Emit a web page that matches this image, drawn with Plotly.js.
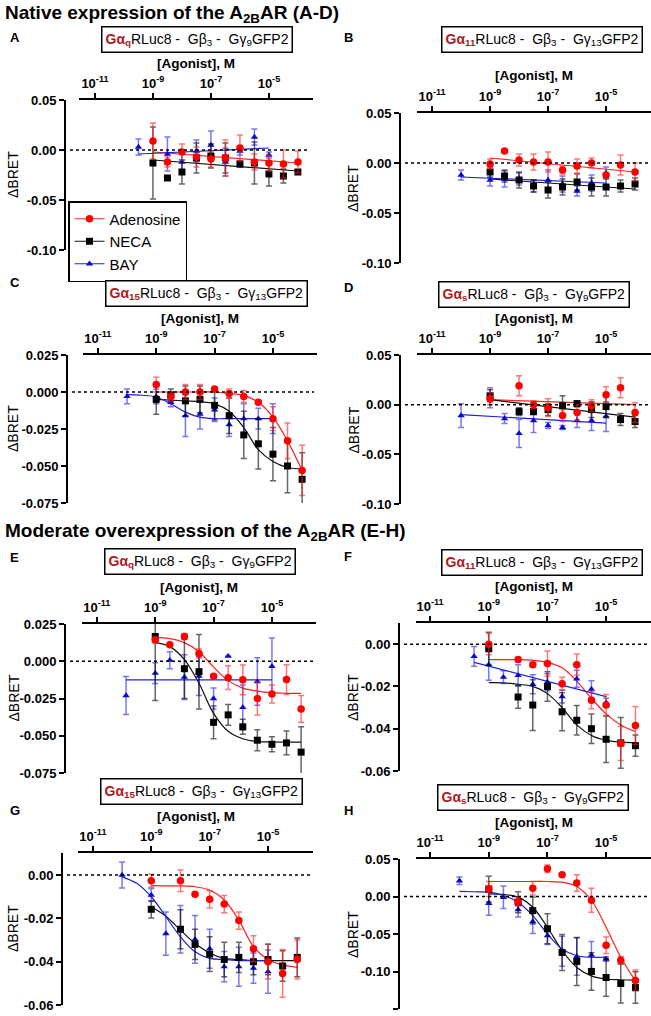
<!DOCTYPE html>
<html>
<head>
<meta charset="utf-8">
<script src="https://cdn.plot.ly/plotly-3.0.1.min.js"></script>
<style>body{margin:0;background:#fff}</style>
</head>
<body>
<div id="fig" style="width:651px;height:1016px"></div>
<script>
'use strict';

const n = null;

// agonist concentrations (M), half-log steps
const dose = [1e-10, 3.16e-10, 1e-9, 3.16e-9, 1e-8, 3.16e-8, 1e-7, 3.16e-7, 1e-6, 3.16e-6, 1e-5, 3.16e-5, 1e-4];

const xTickVals = [1e-11, 1e-9, 1e-7, 1e-5];
const xTickText = ['10<sup>-11</sup>', '10<sup>-9</sup>', '10<sup>-7</sup>', '10<sup>-5</sup>'];

const yTicks1 = [-0.10, -0.05, 0, 0.05];
const yText1 = ['-0.10', '-0.05', '0.00', '0.05'];
const yTicks2 = [-0.075, -0.05, -0.025, 0, 0.025];
const yText2 = ['-0.075', '-0.050', '-0.025', '0.000', '0.025'];
const yTicks3 = [-0.06, -0.04, -0.02, 0];
const yText3 = ['-0.06', '-0.04', '-0.02', '0.00'];
const yTicks4 = [-0.15, -0.10, -0.05, 0, 0.05];
const yText4 = ['-0.15', '-0.10', '-0.05', '0.00', '0.05'];

const letters = ['A', 'B', 'C', 'D', 'E', 'F', 'G', 'H'];
const alphaSub = ['q', '11', '15', 's', 'q', '11', '15', 's'];
const gammaSub = ['9', '13', '13', '9', '9', '13', '13', '9'];
const agonists = ['Adenosine', 'NECA', 'BAY'];

// A
const aAdo     = [n, n, 0.009, -0.012, -0.002, -0.007, -0.009, -0.008, 0.002, -0.012, -0.013, -0.014, -0.012];
const aAdoSd   = [n, n, 0.018, 0.005, 0.008, 0.010, 0.008, 0.018, 0.013, 0.008, 0.008, 0.014, 0.011];
const aNeca    = [n, n, -0.013, -0.028, -0.022, -0.008, -0.006, -0.008, -0.014, -0.013, -0.024, -0.026, -0.022];
const aNecaSd  = [n, n, 0.036, n, 0.012, 0.015, 0.012, 0.015, 0.003, 0.021, 0.012, 0.007, 0.002];
const aBay     = [n, 0.003, n, -0.004, -0.012, -0.001, 0.005, -0.012, -0.001, 0.013, -0.005, n, n];
const aBaySd   = [n, 0.008, n, 0.017, 0.010, 0.011, 0.014, 0.014, 0.004, 0.008, 0.003, n, n];
const aAdoFit  = [n, n, -0.002, n, n, n, n, n, n, n, n, n, -0.013];
const aNecaFit = [n, n, -0.010, n, n, n, n, n, n, n, n, n, -0.021];
const aBayFit  = [n, -0.004, n, n, n, n, n, n, n, n, 0.002, n, n];

// B
const bAdo     = [n, n, -0.001, 0.012, 0.003, 0.001, 0.001, -0.007, -0.003, 0.000, -0.012, -0.002, -0.009];
const bAdoSd   = [n, n, 0.005, n, 0.006, 0.008, 0.010, 0.004, 0.007, 0.005, 0.002, 0.010, 0.009];
const bNeca    = [n, n, -0.009, -0.013, -0.017, -0.023, -0.027, -0.024, -0.019, -0.024, -0.024, -0.023, -0.021];
const bNecaSd  = [n, n, 0.005, 0.006, 0.008, 0.006, 0.008, 0.008, 0.008, 0.009, 0.009, 0.006, 0.006];
const bBay     = [-0.012, n, -0.017, -0.016, -0.016, -0.023, -0.017, -0.021, -0.028, -0.020, -0.010, n, n];
const bBaySd   = [0.005, n, 0.006, 0.008, 0.006, 0.006, 0.010, 0.008, 0.005, 0.008, 0.006, n, n];
const bAdoFit  = [n, n, 0.005, n, n, n, n, n, n, n, n, n, -0.009];
const bNecaFit = [n, n, -0.016, n, n, n, n, n, n, n, n, n, -0.026];
const bBayFit  = [-0.014, n, n, n, n, n, n, n, n, n, -0.020, n, n];

// C
const cAdo     = [n, n, 0.005, -0.003, 0.000, 0.000, 0.002, -0.001, -0.003, -0.007, -0.018, -0.033, -0.053];
const cAdoSd   = [n, n, 0.005, 0.003, 0.005, 0.005, 0.001, 0.003, 0.004, 0.001, 0.008, 0.012, 0.017];
const cNeca    = [n, n, -0.005, -0.002, -0.006, -0.005, -0.009, -0.016, -0.029, -0.035, -0.042, -0.050, -0.059];
const cNecaSd  = [n, n, 0.010, 0.004, 0.010, 0.009, 0.010, 0.012, 0.016, 0.017, 0.018, 0.018, 0.018];
const cBay     = [-0.003, n, -0.003, -0.007, -0.016, -0.015, -0.012, -0.022, -0.018, -0.018, -0.018, n, n];
const cBaySd   = [0.005, n, 0.005, 0.003, 0.014, 0.010, 0.008, 0.008, 0.010, 0.007, 0.010, n, n];
const cAdoFit  = [n, n, 0.000, 0.000, 0.000, 0.000, 0.000, -0.001, -0.0023, -0.007, -0.017, -0.033, -0.053];
const cNecaFit = [n, n, -0.005, -0.0055, -0.006, -0.0065, -0.008, -0.013, -0.024, -0.039, -0.047, -0.051, -0.052];
const cBayFit  = [-0.0018, -0.0022, -0.0034, -0.008, -0.0136, -0.017, -0.018, -0.018, -0.018, -0.018, -0.018, n, n];

// D
const dAdo     = [n, n, 0.006, n, 0.019, 0.000, -0.003, -0.011, -0.008, -0.001, 0.010, 0.017, -0.008];
const dAdoSd   = [n, n, 0.006, n, 0.010, 0.004, 0.009, 0.006, 0.008, 0.006, 0.008, 0.010, 0.010];
const dNeca    = [n, n, 0.009, n, -0.007, -0.007, -0.005, -0.001, 0.001, -0.005, -0.002, -0.015, -0.017];
const dNecaSd  = [n, n, 0.006, n, 0.004, 0.003, 0.006, 0.010, 0.003, 0.008, 0.010, 0.006, 0.006];
const dBay     = [-0.011, n, 0.007, -0.014, -0.029, -0.016, -0.021, -0.023, -0.016, -0.016, -0.012, n, n];
const dBaySd   = [0.012, n, 0.010, 0.005, 0.014, 0.012, 0.003, 0.002, 0.007, 0.010, 0.015, n, n];
const dAdoFit  = [n, n, 0.005, n, n, n, n, n, n, n, n, n, 0.000];
const dNecaFit = [n, n, 0.005, n, n, n, n, n, n, n, n, n, -0.0125];
const dBayFit  = [-0.010, n, n, n, n, n, n, n, n, n, -0.0186, n, n];

// E
const eAdo     = [n, n, 0.0143, 0.011, 0.0166, 0.0052, -0.010, -0.011, -0.0125, -0.025, -0.022, -0.0123, -0.032];
const eAdoSd   = [n, n, 0.002, 0.001, 0.002, 0.003, 0.001, 0.008, 0.010, 0.011, 0.006, 0.010, 0.009];
const eNeca    = [n, n, 0.0166, n, -0.005, -0.007, -0.041, -0.036, -0.044, -0.053, -0.0557, -0.0548, -0.061];
const eNecaSd  = [n, n, 0.043, n, 0.020, 0.025, 0.011, 0.007, 0.005, 0.007, 0.005, 0.008, 0.017];
const eBay     = [-0.023, n, -0.008, 0.0007, -0.0107, -0.010, -0.025, 0.0034, -0.031, -0.0136, -0.0034, n, n];
const eBaySd   = [0.0127, n, 0.007, 0.0057, 0.015, 0.013, 0.007, n, 0.015, 0.016, 0.019, n, n];
const eAdoFit  = [n, n, 0.016, 0.0152, 0.0125, 0.0064, -0.0039, -0.013, -0.018, -0.020, -0.0211, -0.0215, -0.0216];
const eNecaFit = [n, n, 0.0125, 0.0098, 0.0011, -0.0148, -0.035, -0.047, -0.052, -0.0539, -0.0542, -0.0543, -0.0543];
const eBayFit  = [-0.0125, n, n, n, n, n, n, n, n, n, -0.0125, n, n];

// F
const fAdo     = [n, n, 0.000, n, -0.0073, -0.0097, -0.0092, -0.0187, -0.0097, -0.0265, -0.0288, -0.047, -0.0385];
const fAdoSd   = [n, n, 0.005, n, 0.001, 0.001, 0.006, 0.003, 0.005, 0.004, 0.005, 0.008, 0.009];
const fNeca    = [n, n, -0.0022, n, -0.025, -0.0288, -0.020, -0.032, -0.036, -0.040, -0.045, -0.0467, -0.048];
const fNecaSd  = [n, n, 0.0078, n, 0.0053, 0.012, 0.007, 0.009, 0.007, 0.007, 0.011, 0.012, 0.005];
const fBay     = [n, -0.0058, -0.0097, -0.0156, -0.0148, -0.019, -0.018, -0.0248, -0.0164, -0.0213, -0.0276, n, n];
const fBaySd   = [n, 0.0047, 0.0074, 0.003, 0.005, 0.0045, 0.004, 0.003, 0.004, 0.004, 0.002, n, n];
const fAdoFit  = [n, n, -0.0073, -0.0073, -0.0073, -0.0076, -0.0086, -0.0112, -0.0175, -0.0257, -0.033, -0.0382, -0.0413];
const fNecaFit = [n, n, -0.0182, -0.0183, -0.019, -0.020, -0.0234, -0.030, -0.0382, -0.0432, -0.0455, -0.0463, -0.0466];
const fBayFit  = [n, -0.0086, n, n, n, n, n, n, n, n, -0.0248, n, n];

// G
const gAdo     = [n, n, -0.0026, n, -0.0026, -0.0088, -0.0112, -0.0134, -0.021, -0.034, -0.040, -0.0454, -0.039];
const gAdoSd   = [n, n, 0.003, n, 0.005, 0.001, 0.004, 0.004, 0.004, 0.006, 0.008, 0.011, 0.009];
const gNeca    = [n, n, -0.0158, n, -0.025, -0.032, -0.0365, -0.039, -0.038, -0.040, -0.039, -0.042, -0.038];
const gNecaSd  = [n, n, 0.004, n, 0.009, 0.007, 0.008, 0.008, 0.007, 0.006, 0.007, 0.007, 0.009];
const gBay     = [0.000, n, -0.0092, -0.027, -0.025, -0.0297, -0.034, -0.0423, -0.0423, -0.043, -0.0446, n, n];
const gBaySd   = [0.006, n, 0.003, 0.010, 0.011, 0.011, 0.009, 0.007, 0.009, 0.007, 0.010, n, n];
const gAdoFit  = [n, n, -0.0049, -0.005, -0.005, -0.0054, -0.0069, -0.0115, -0.0208, -0.033, -0.039, -0.0415, -0.0426];
const gNecaFit = [n, n, -0.0146, -0.019, -0.0254, -0.0315, -0.036, -0.0385, -0.039, -0.0395, -0.0395, -0.0395, -0.0395];
const gBayFit  = [-0.0008, -0.0038, -0.010, -0.0192, -0.0285, -0.0354, -0.0385, -0.039, -0.0395, -0.0395, -0.0395, n, n];

// H
const hAdo     = [n, n, 0.010, n, -0.007, 0.011, 0.037, 0.029, 0.018, -0.005, -0.065, -0.085, -0.112];
const hAdoSd   = [n, n, 0.010, n, 0.006, 0.009, 0.005, n, 0.011, 0.016, 0.011, 0.005, 0.014];
const hNeca    = [n, n, 0.010, n, -0.0076, -0.0188, -0.043, -0.0746, -0.0866, -0.100, -0.108, -0.116, -0.1214];
const hNecaSd  = [n, n, 0.017, n, 0.014, 0.018, 0.020, 0.024, 0.032, 0.025, 0.025, 0.026, 0.021];
const hBay     = [0.021, n, -0.009, -0.001, -0.0174, -0.0335, -0.052, -0.073, -0.080, -0.078, -0.0835, n, n];
const hBaySd   = [0.005, n, 0.016, 0.015, 0.010, 0.016, 0.012, 0.020, 0.025, 0.018, 0.003, n, n];
const hAdoFit  = [n, n, 0.020, 0.020, 0.020, 0.020, 0.020, 0.019, 0.0134, -0.005, -0.041, -0.081, -0.1125];
const hNecaFit = [n, n, 0.0036, 0.0027, -0.0009, -0.0143, -0.041, -0.072, -0.0946, -0.1058, -0.110, -0.111, -0.1116];
const hBayFit  = [0.0067, 0.0063, 0.0058, 0.0013, -0.0076, -0.0254, -0.050, -0.070, -0.079, -0.081, -0.081, n, n];

const W = 651, H = 1016;
const FONT = 'Liberation Sans, Arial, sans-serif';

// g: [y-axis x, top, bottom, x-axis start, x-axis end] in px
const panels = [
    {g: [65, 100, 250, 79, 313], xr: [-11.55, -3.48], yr: [-0.10, 0.05], yt: yTicks1, ytx: yText1, box: [197, 39.5], lab: [8, 37],
     s: [[aAdo, aAdoSd, aAdoFit], [aNeca, aNecaSd, aNecaFit], [aBay, aBaySd, aBayFit]]},
    {g: [400, 113, 263, 417, 651], xr: [-11.52, -3.45], yr: [-0.10, 0.05], yt: yTicks1, ytx: yText1, box: [542, 39], lab: [342, 37],
     s: [[bAdo, bAdoSd, bAdoFit], [bNeca, bNecaSd, bNecaFit], [bBay, bBaySd, bBayFit]]},
    {g: [67, 355, 503, 83, 317], xr: [-11.51, -3.49], yr: [-0.075, 0.025], yt: yTicks2, ytx: yText2, box: [206, 293.5], lab: [8, 283],
     s: [[cAdo, cAdoSd, cAdoFit], [cNeca, cNecaSd, cNecaFit], [cBay, cBaySd, cBayFit]]},
    {g: [400, 355, 504, 417, 651], xr: [-11.52, -3.45], yr: [-0.10, 0.05], yt: yTicks1, ytx: yText1, box: [534, 295], lab: [342, 288],
     s: [[dAdo, dAdoSd, dAdoFit], [dNeca, dNecaSd, dNecaFit], [dBay, dBaySd, dBayFit]]},
    {g: [65, 624, 773, 82, 316], xr: [-11.51, -3.49], yr: [-0.075, 0.025], yt: yTicks2, ytx: yText2, box: [200, 561.5], lab: [8, 557],
     s: [[eAdo, eAdoSd, eAdoFit], [eNeca, eNecaSd, eNecaFit], [eBay, eBaySd, eBayFit]]},
    {g: [399, 623, 771, 416, 651], xr: [-11.48, -3.47], yr: [-0.06, 0.01], yt: yTicks3, ytx: yText3, box: [541.5, 562], lab: [342, 556],
     s: [[fAdo, fAdoSd, fAdoFit], [fNeca, fNecaSd, fNecaFit], [fBay, fBaySd, fBayFit]]},
    {g: [62, 853, 1005, 78, 313], xr: [-11.51, -3.46], yr: [-0.06, 0.0102], yt: yTicks3, ytx: yText3, box: [201.5, 791.5], lab: [8, 810],
     s: [[gAdo, gAdoSd, gAdoFit], [gNeca, gNecaSd, gNecaFit], [gBay, gBaySd, gBayFit]]},
    {g: [399, 859, 1009, 416, 651], xr: [-11.48, -3.47], yr: [-0.15, 0.05], yt: yTicks4, ytx: yText4, box: [532.5, 797.5], lab: [342, 810],
     s: [[hAdo, hAdoSd, hAdoFit], [hNeca, hNecaSd, hNecaFit], [hBay, hBaySd, hBayFit]]},
];

const looks = [
    {color: '#ff0000', err: 'rgba(255,30,30,0.6)', fit: '#ff2020', symbol: 'circle', size: 7.5},
    {color: '#000000', err: 'rgba(0,0,0,0.6)', fit: '#111111', symbol: 'square', size: 7},
    {color: '#0a0ad2', err: 'rgba(30,30,235,0.6)', fit: '#2020d8', symbol: 'triangle-up', size: 6.5},
];

const bold = t => '<b>' + t + '</b>';

const traces = [];
const annotations = [];
const shapes = [];
const layout = {
    width: W, height: H,
    margin: {l: 0, r: 0, t: 0, b: 0},
    paper_bgcolor: '#fff', plot_bgcolor: 'rgba(0,0,0,0)',
    font: {family: FONT, color: '#000'},
    showlegend: true,
    legend: {
        x: 68 / W, y: 1 - 201 / H, xanchor: 'left', yanchor: 'top',
        bgcolor: '#fff', bordercolor: '#000', borderwidth: 1.5,
        font: {family: FONT, size: 15, color: '#000'},
        tracegroupgap: 0, itemwidth: 30
    },
    annotations: annotations,
    shapes: shapes
};

const px = v => v / W;
const py = v => 1 - v / H;

function titleText(i) {
    return '<span style="color:#b0181d"><b>G\u03b1<sub>' + alphaSub[i] + '</sub></b></span>RLuc8 -\u00a0 G\u03b2<sub>3</sub> -\u00a0 G\u03b3<sub>' + gammaSub[i] + '</sub>GFP2';
}

panels.forEach((p, i) => {
    const k = i === 0 ? '' : String(i + 1);
    const [yx, top, bot, x0, x1] = p.g;

    layout['xaxis' + k] = {
        type: 'log', domain: [px(x0), px(x1)], range: p.xr, side: 'top', anchor: 'y' + k,
        showline: true, linecolor: '#000', linewidth: 2,
        ticks: 'outside', ticklen: 5, tickwidth: 2, tickcolor: '#000',
        tickmode: 'array', tickvals: xTickVals, ticktext: xTickText.map(bold),
        tickfont: {family: FONT, size: 13, color: '#000'},
        showgrid: false, zeroline: false
    };
    layout['yaxis' + k] = {
        domain: [py(bot), py(top)], range: p.yr, anchor: 'free', position: px(yx),
        showline: true, linecolor: '#000', linewidth: 2,
        ticks: 'outside', ticklen: 5, tickwidth: 2, tickcolor: '#000',
        tickmode: 'array', tickvals: p.yt, ticktext: p.ytx.map(bold),
        tickfont: {family: FONT, size: 13, color: '#000'},
        showgrid: false, zeroline: false
    };

    // dotted zero line
    shapes.push({
        type: 'line', xref: 'paper', yref: 'y' + k,
        x0: px(yx + 5), x1: px(x1 - 3), y0: 0, y1: 0,
        line: {color: '#000', width: 1.5, dash: 'dot'}
    });

    // fitted curves
    p.s.forEach((ser, j) => {
        traces.push({
            x: dose, y: ser[2], xaxis: 'x' + k, yaxis: 'y' + k,
            type: 'scatter', mode: 'lines', connectgaps: true,
            line: {color: looks[j].fit, width: 1.2, shape: 'spline'},
            showlegend: false, hoverinfo: 'skip'
        });
    });
    // means with SD bars, BAY underneath
    [2, 1, 0].forEach(j => {
        const ser = p.s[j];
        traces.push({
            x: dose, y: ser[0], xaxis: 'x' + k, yaxis: 'y' + k,
            type: 'scatter', mode: 'markers', name: agonists[j],
            marker: {color: looks[j].color, symbol: looks[j].symbol, size: looks[j].size},
            error_y: {type: 'data', array: ser[1], visible: true, color: looks[j].err, thickness: 1.5, width: 3},
            showlegend: false
        });
    });

    annotations.push(
        {xref: 'paper', yref: 'paper', x: px(p.lab[0]), y: py(p.lab[1]), xanchor: 'left', yanchor: 'middle',
         text: bold(letters[i]), showarrow: false, font: {family: FONT, size: 13}},
        {xref: 'paper', yref: 'paper', x: px(p.box[0]), y: py(p.box[1]), xanchor: 'center', yanchor: 'middle',
         text: titleText(i), showarrow: false, font: {family: FONT, size: 14},
         bordercolor: '#000', borderwidth: 1.5, borderpad: 3, bgcolor: '#fff'},
        {xref: 'paper', yref: 'paper', x: px((x0 + x1) / 2), y: py(top - 37), xanchor: 'center', yanchor: 'middle',
         text: bold('[Agonist], M'), showarrow: false, font: {family: FONT, size: 13.5}},
        {xref: 'paper', yref: 'paper', x: px(yx < 200 ? 13 : 353), y: py((top + bot) / 2), xanchor: 'center', yanchor: 'middle',
         text: '\u0394BRET', textangle: -90, showarrow: false, font: {family: FONT, size: 14}}
    );
});

// legend entries
agonists.forEach((name, j) => {
    traces.push({
        x: [null], y: [null], xaxis: 'x', yaxis: 'y', type: 'scatter', mode: 'lines+markers', name: name,
        line: {color: looks[j].fit, width: 1.2},
        marker: {color: looks[j].color, symbol: looks[j].symbol, size: looks[j].size}
    });
});

annotations.push(
    {xref: 'paper', yref: 'paper', x: px(3), y: py(14), xanchor: 'left', yanchor: 'middle', showarrow: false,
     text: bold('Native expression of the A<sub>2B</sub>AR (A-D)'), font: {family: FONT, size: 19}},
    {xref: 'paper', yref: 'paper', x: px(3), y: py(532), xanchor: 'left', yanchor: 'middle', showarrow: false,
     text: bold('Moderate overexpression of the A<sub>2B</sub>AR (E-H)'), font: {family: FONT, size: 19}}
);

Plotly.newPlot('fig', traces, layout, {staticPlot: true});
</script>
</body>
</html>
